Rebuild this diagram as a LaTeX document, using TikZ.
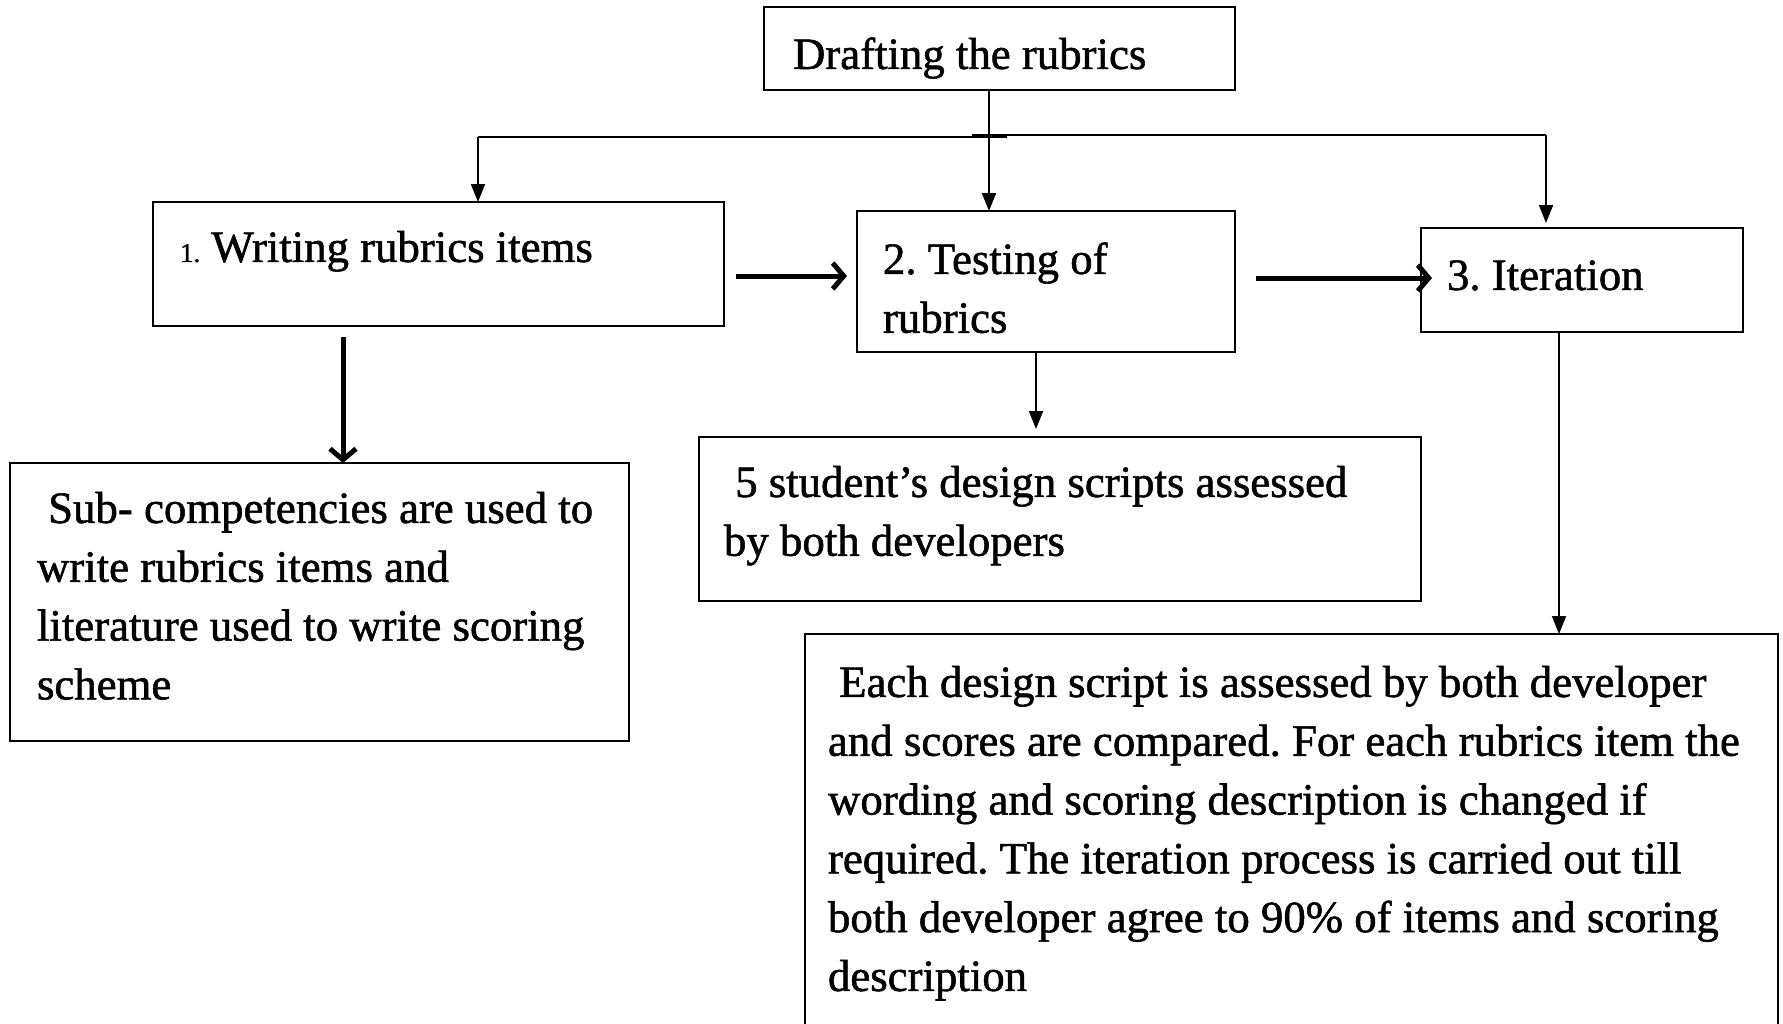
\documentclass[tikz,border=0pt]{standalone}
\usepackage{fontspec}
\setmainfont{Liberation Serif}[FakeBold=1.2]
\usetikzlibrary{arrows.meta}
\frenchspacing
\newcommand\bodysize{\fontsize{44.8}{58.8}\selectfont}
\newcommand\numsize{\fontsize{27}{30}\selectfont}
\begin{document}
\begin{tikzpicture}[x=1pt,y=-1pt,
  box/.style={draw, line width=2.6pt, inner sep=0pt, outer sep=0pt, anchor=north west},
  txt/.style={anchor=north west, inner sep=0pt, outer sep=0pt, align=left, font=\bodysize\frenchspacing},
  thinarrow/.style={line width=1.8pt, -{Triangle[length=18pt,width=14pt]}},
  thickarrow/.style={line width=5pt, -{Straight Barb[length=11pt,width=26pt]}},
  barline/.style={line width=1.8pt}]
\fill[white] (0,0) rectangle (1783,1023);
\useasboundingbox (0,0) rectangle (1783,1023);

% boxes
\node[box, minimum width=471pt, minimum height=83pt]  (bd) at (764,7) {};
\node[box, minimum width=571pt, minimum height=124pt] (b1) at (153,202) {};
\node[box, minimum width=378pt, minimum height=141pt] (b2) at (857,211) {};
\node[box, minimum width=322pt, minimum height=104pt] (b3) at (1421,228) {};
\node[box, minimum width=619pt, minimum height=278pt] (b4) at (10,463) {};
\node[box, minimum width=722pt, minimum height=164pt] (b5) at (699,437) {};
\node[box, minimum width=973pt, minimum height=450pt] (b6) at (805,634) {};

% texts (top = first baseline - 0.7 baselineskip)
\node[txt] (tdraft) at (793,27.8) {\strut Drafting the rubrics};
\node[txt] (t1) at (180,220.8) {\strut{\numsize 1.}\ Writing rubrics items};
\node[txt] (t2) at (883,232.8) {\strut 2. Testing of\\rubrics};
\node[txt] (t3) at (1447,248.8) {\strut 3. Iteration};
\node[txt] (t4) at (37,481.8) {\strut\ Sub- competencies are used to\\write rubrics items and\\literature used to write scoring\\scheme};
\node[txt] (t5) at (724,455.8) {\strut\ 5 student’s design scripts assessed\\by both developers};
\node[txt] (t6) at (828,655.8) {\strut\ Each design script is assessed by both developer\\and scores are compared. For each rubrics item the\\wording and scoring description is changed if\\required. The iteration process is carried out till\\both developer agree to 90\% of items and scoring\\description};

% branching bar under the top box
\coordinate (j) at (989,136);
\coordinate (barL) at (478,137);
\coordinate (barR) at (1546,135);
\draw[barline] (barL) -- (1007,137);
\draw[barline] (972,135) -- (barR);
\draw[thinarrow] (bd.south -| j) -- (b2.north -| j);
\draw[thinarrow] (barL) -- (barL |- b1.north);
\draw[thinarrow] (barR) -- ([yshift=5pt]barR |- b3.north);

% step to step
\coordinate (r12) at (0,276);
\coordinate (r23) at (0,278);
\draw[thickarrow] ([xshift=12pt]b1.east |- r12) -- ([xshift=-10pt]b2.west |- r12);
\draw[thickarrow] ([xshift=21pt]b2.east |- r23) -- ([xshift=11pt]b3.west |- r23);

% step to description
\coordinate (c14) at (343,0);
\coordinate (c25) at (1036,0);
\coordinate (c36) at (1559,0);
\draw[thickarrow] ([yshift=-11pt]b1.south -| c14) -- (b4.north -| c14);
\draw[thinarrow] (b2.south -| c25) -- ([yshift=8pt]b5.north -| c25);
\draw[thinarrow] (b3.south -| c36) -- (b6.north -| c36);
\end{tikzpicture}
\end{document}
